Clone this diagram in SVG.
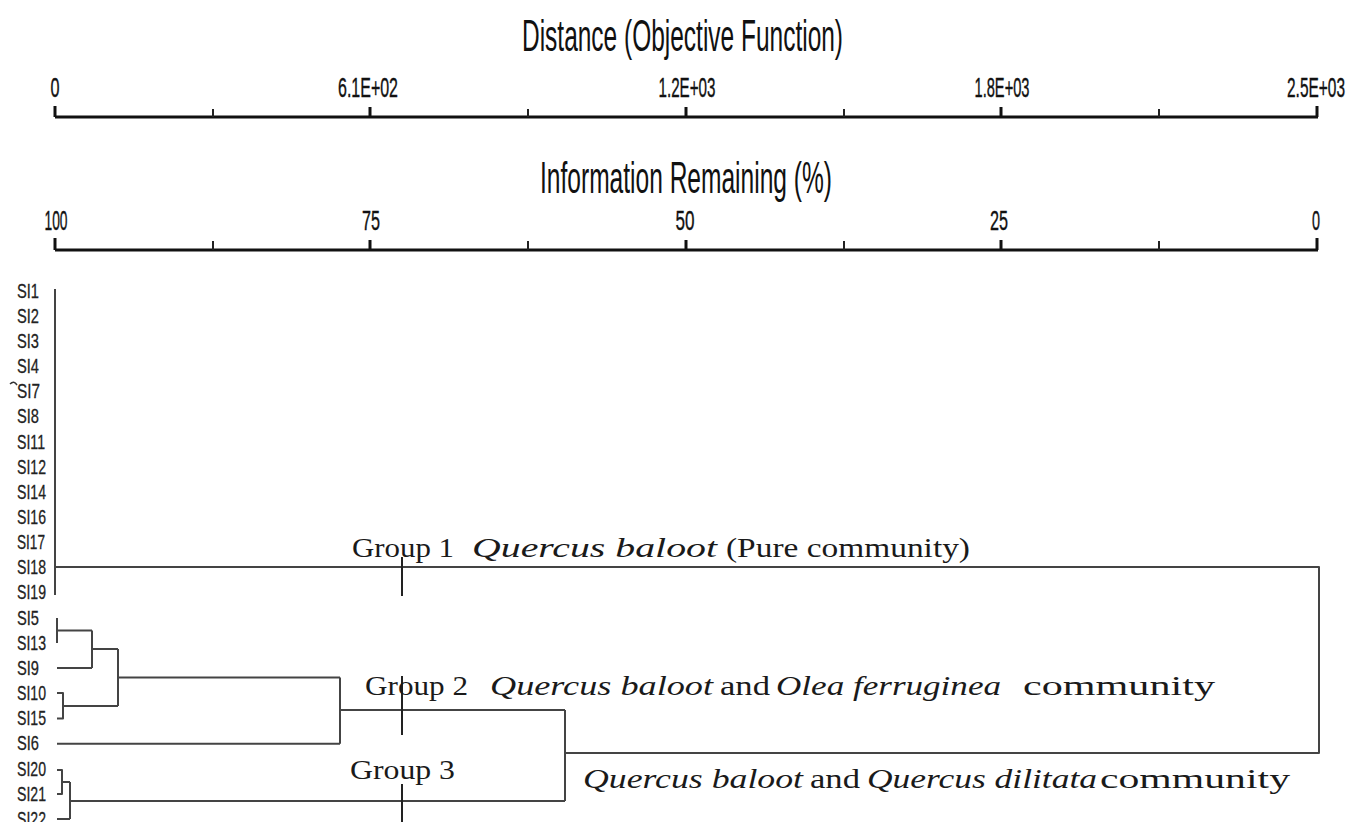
<svg xmlns="http://www.w3.org/2000/svg" width="1348" height="822" viewBox="0 0 1348 822">
<style>
.ax{stroke:#111;stroke-width:3;fill:none}
.tk{stroke:#111;stroke-width:3}
.tm{stroke:#222;stroke-width:2}
.lbl{font-family:"Liberation Sans",Arial,sans-serif;font-size:28px;fill:#111;text-anchor:middle;stroke:#111;stroke-width:0.4}
.ttl{font-family:"Liberation Sans",Arial,sans-serif;font-size:45px;fill:#111}
.leaf{font-family:"Liberation Sans",Arial,sans-serif;font-size:21px;fill:#222;stroke:#222;stroke-width:0.3}
.br{stroke:#444;stroke-width:2;fill:none;stroke-linejoin:round}
.gt{font-family:"Liberation Serif","Times New Roman",serif;font-size:28px;fill:#1a1a1a}
.it{font-style:italic}
</style>
<rect width="1348" height="822" fill="#fff"/>
<g id="axis-distance">
<text class="ttl" x="522" y="51" textLength="321" lengthAdjust="spacingAndGlyphs">Distance (Objective Function)</text>
<line class="ax" x1="55" y1="117" x2="1318" y2="117"/>
<line class="tk" x1="55" y1="106" x2="55" y2="117"/>
<line class="tm" x1="213" y1="109" x2="213" y2="117"/>
<line class="tk" x1="370" y1="107" x2="370" y2="117"/>
<line class="tm" x1="528" y1="109" x2="528" y2="117"/>
<line class="tk" x1="686" y1="107" x2="686" y2="117"/>
<line class="tm" x1="844" y1="109" x2="844" y2="117"/>
<line class="tk" x1="1001" y1="107" x2="1001" y2="117"/>
<line class="tm" x1="1159" y1="109" x2="1159" y2="117"/>
<line class="tk" x1="1317" y1="106" x2="1317" y2="117"/>
<text class="lbl" x="55" y="97" textLength="9" lengthAdjust="spacingAndGlyphs">0</text>
<text class="lbl" x="368" y="97" textLength="60" lengthAdjust="spacingAndGlyphs">6.1E+02</text>
<text class="lbl" x="687" y="97" textLength="57" lengthAdjust="spacingAndGlyphs">1.2E+03</text>
<text class="lbl" x="1002" y="97" textLength="55" lengthAdjust="spacingAndGlyphs">1.8E+03</text>
<text class="lbl" x="1316" y="97" textLength="58" lengthAdjust="spacingAndGlyphs">2.5E+03</text>
</g>
<g id="axis-information">
<text class="ttl" x="540" y="193" textLength="292" lengthAdjust="spacingAndGlyphs">Information Remaining (%)</text>
<line class="ax" x1="55" y1="250" x2="1318" y2="250"/>
<line class="tk" x1="55" y1="238" x2="55" y2="250"/>
<line class="tm" x1="213" y1="241" x2="213" y2="250"/>
<line class="tk" x1="370" y1="240" x2="370" y2="250"/>
<line class="tm" x1="528" y1="241" x2="528" y2="250"/>
<line class="tk" x1="686" y1="240" x2="686" y2="250"/>
<line class="tm" x1="844" y1="241" x2="844" y2="250"/>
<line class="tk" x1="1001" y1="240" x2="1001" y2="250"/>
<line class="tm" x1="1159" y1="241" x2="1159" y2="250"/>
<line class="tk" x1="1317" y1="238" x2="1317" y2="250"/>
<text class="lbl" x="56" y="230" textLength="23" lengthAdjust="spacingAndGlyphs">100</text>
<text class="lbl" x="371" y="230" textLength="18" lengthAdjust="spacingAndGlyphs">75</text>
<text class="lbl" x="685" y="230" textLength="19" lengthAdjust="spacingAndGlyphs">50</text>
<text class="lbl" x="999" y="230" textLength="18" lengthAdjust="spacingAndGlyphs">25</text>
<text class="lbl" x="1316" y="230" textLength="8" lengthAdjust="spacingAndGlyphs">0</text>
</g>
<g id="leaves">
<text class="leaf" x="17" y="298" textLength="22" lengthAdjust="spacingAndGlyphs">SI1</text>
<text class="leaf" x="17" y="323" textLength="22" lengthAdjust="spacingAndGlyphs">SI2</text>
<text class="leaf" x="17" y="348" textLength="22" lengthAdjust="spacingAndGlyphs">SI3</text>
<text class="leaf" x="17" y="373" textLength="22" lengthAdjust="spacingAndGlyphs">SI4</text>
<text class="leaf" x="17" y="398" textLength="23" lengthAdjust="spacingAndGlyphs">SI7</text>
<text class="leaf" x="17" y="423" textLength="22" lengthAdjust="spacingAndGlyphs">SI8</text>
<text class="leaf" x="17" y="449" textLength="28" lengthAdjust="spacingAndGlyphs">SI11</text>
<text class="leaf" x="17" y="474" textLength="29" lengthAdjust="spacingAndGlyphs">SI12</text>
<text class="leaf" x="17" y="499" textLength="29" lengthAdjust="spacingAndGlyphs">SI14</text>
<text class="leaf" x="17" y="524" textLength="29" lengthAdjust="spacingAndGlyphs">SI16</text>
<text class="leaf" x="17" y="549" textLength="28" lengthAdjust="spacingAndGlyphs">SI17</text>
<text class="leaf" x="17" y="574" textLength="29" lengthAdjust="spacingAndGlyphs">SI18</text>
<text class="leaf" x="17" y="599" textLength="29" lengthAdjust="spacingAndGlyphs">SI19</text>
<text class="leaf" x="17" y="625" textLength="22" lengthAdjust="spacingAndGlyphs">SI5</text>
<text class="leaf" x="17" y="650" textLength="29" lengthAdjust="spacingAndGlyphs">SI13</text>
<text class="leaf" x="17" y="675" textLength="22" lengthAdjust="spacingAndGlyphs">SI9</text>
<text class="leaf" x="17" y="700" textLength="29" lengthAdjust="spacingAndGlyphs">SI10</text>
<text class="leaf" x="17" y="725" textLength="29" lengthAdjust="spacingAndGlyphs">SI15</text>
<text class="leaf" x="17" y="750" textLength="22" lengthAdjust="spacingAndGlyphs">SI6</text>
<text class="leaf" x="17" y="776" textLength="29" lengthAdjust="spacingAndGlyphs">SI20</text>
<text class="leaf" x="17" y="801" textLength="29" lengthAdjust="spacingAndGlyphs">SI21</text>
<text class="leaf" x="17" y="826" textLength="29" lengthAdjust="spacingAndGlyphs">SI22</text>
<path d="M10 384 Q14 380 17 385" stroke="#333" stroke-width="1.5" fill="none"/>
</g>
<g id="connectors">
<line class="br" x1="55" y1="289" x2="55" y2="595"/>
<path class="br" d="M55 567 H1319 V753 H565"/>
<path class="br" d="M57 618 V643 M57 630.5 H92 M57 668 H92 M92 630.5 V668 M92 649 H118"/>
<path class="br" d="M57 693 H63 V718.6 H57 M63 706 H118 M118 649 V706 M118 677.5 H340 M57 743.7 H340 M340 677.5 V743.7 M340 710 H565"/>
<path class="br" d="M57 770 H62 V794 H57 M62 782 H70 M57 819 H70 M70 782 V819 M70 801 H565 M565 710 V801"/>
</g>
<g id="group1">
<line class="tm" x1="402" y1="557" x2="402" y2="596"/>
<text class="gt" x="352" y="557" textLength="102" lengthAdjust="spacingAndGlyphs">Group 1</text>
<text class="gt it" x="472" y="557" textLength="245" lengthAdjust="spacingAndGlyphs">Quercus baloot</text>
<text class="gt" x="726" y="557" textLength="244" lengthAdjust="spacingAndGlyphs">(Pure community)</text>
</g>
<g id="group2">
<line class="tm" x1="402" y1="676" x2="402" y2="735"/>
<text class="gt" x="365" y="695" textLength="103" lengthAdjust="spacingAndGlyphs">Group 2</text>
<text class="gt it" x="490" y="695" textLength="223" lengthAdjust="spacingAndGlyphs">Quercus baloot</text>
<text class="gt" x="720" y="695" textLength="50" lengthAdjust="spacingAndGlyphs">and</text>
<text class="gt it" x="776" y="695" textLength="225" lengthAdjust="spacingAndGlyphs">Olea ferruginea</text>
<text class="gt" x="1023" y="695" textLength="192" lengthAdjust="spacingAndGlyphs">community</text>
</g>
<g id="group3">
<line class="tm" x1="402" y1="784" x2="402" y2="822"/>
<text class="gt" x="350" y="779" textLength="105" lengthAdjust="spacingAndGlyphs">Group 3</text>
<text class="gt it" x="583" y="788" textLength="220" lengthAdjust="spacingAndGlyphs">Quercus baloot</text>
<text class="gt" x="810" y="788" textLength="50" lengthAdjust="spacingAndGlyphs">and</text>
<text class="gt it" x="867" y="788" textLength="230" lengthAdjust="spacingAndGlyphs">Quercus dilitata</text>
<text class="gt" x="1100" y="788" textLength="190" lengthAdjust="spacingAndGlyphs">community</text>
</g>
</svg>
